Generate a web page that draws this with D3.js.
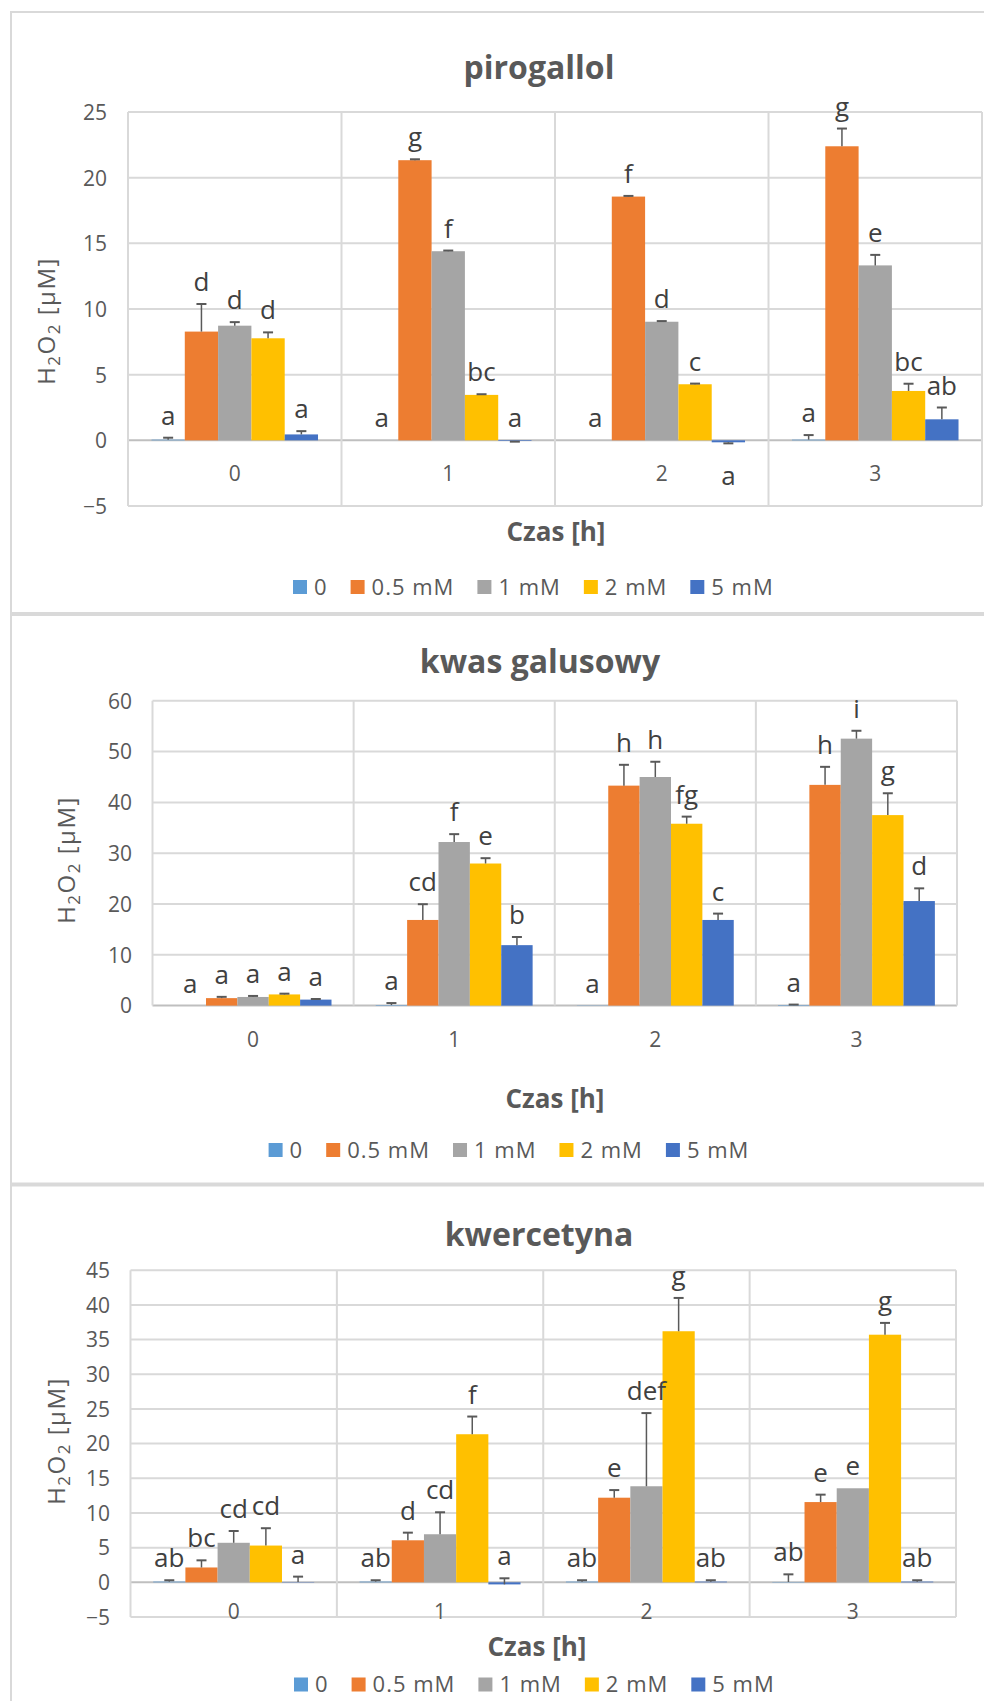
<!DOCTYPE html>
<html><head><meta charset="utf-8">
<script src="https://cdn.jsdelivr.net/npm/d3@7/dist/d3.min.js"></script>
<style>html,body{margin:0;padding:0;background:#fff;} svg{display:block;} text{font-family:"Open Sans",sans-serif;}</style>
</head><body><svg id="c" width="984" height="1701"></svg>
<script>
// ---------- DATA ----------
const categories = ["0", "1", "2", "3"];
const seriesNames = ["0", "0.5 mM", "1 mM", "2 mM", "5 mM"];
const seriesColors = ["#5B9BD5", "#ED7D31", "#A5A5A5", "#FFC000", "#4472C4"];

// pirogallol (rows = series, columns = time categories)
const piroValues = [
  [0.05, 0, 0, 0.05],
  [8.28, 21.33, 18.56, 22.39],
  [8.73, 14.4, 9.03, 13.32],
  [7.77, 3.46, 4.27, 3.76],
  [0.45, -0.05, -0.15, 1.6]
];
const piroErrors = [
  [0.15, 0, 0, 0.35],
  [2.1, 0.07, 0.05, 1.35],
  [0.27, 0.05, 0.05, 0.8],
  [0.45, 0.05, 0.05, 0.55],
  [0.25, -0.05, -0.08, 0.9]
];
const piroLetters = [
  ["a", "a", "a", "a"],
  ["d", "g", "f", "g"],
  ["d", "f", "d", "e"],
  ["d", "bc", "c", "bc"],
  ["a", "a", "a", "ab"]
];
const piroTicks = [-5, 0, 5, 10, 15, 20, 25];

// kwas galusowy
const galValues = [
  [0, 0.1, -0.05, 0.1],
  [1.47, 16.86, 43.3, 43.45],
  [1.7, 32.2, 45.0, 52.55],
  [2.2, 27.97, 35.8, 37.5],
  [1.18, 11.9, 16.86, 20.58]
];
const galErrors = [
  [0, 0.4, 0, 0.1],
  [0.25, 3.1, 4.1, 3.55],
  [0.2, 1.55, 3.0, 1.55],
  [0.15, 1.05, 1.4, 4.3],
  [0.12, 1.6, 1.25, 2.5]
];
const galLetters = [
  ["a", "a", "a", "a"],
  ["a", "cd", "h", "h"],
  ["a", "f", "h", "i"],
  ["a", "e", "fg", "g"],
  ["a", "b", "c", "d"]
];
const galTicks = [0, 10, 20, 30, 40, 50, 60];

// kwercetyna
const kweValues = [
  [0.1, 0.1, 0.1, 0.05],
  [2.14, 6.06, 12.2, 11.57],
  [5.7, 6.93, 13.85, 13.56],
  [5.3, 21.35, 36.2, 35.7],
  [0.05, -0.3, 0.1, 0.1]
];
const kweErrors = [
  [0.2, 0.2, 0.2, 1.1],
  [1.03, 1.1, 1.1, 1.07],
  [1.7, 3.17, 10.55, 0],
  [2.5, 2.55, 4.8, 1.7],
  [0.77, 0.88, 0.2, 0.2]
];
const kweLetters = [
  ["ab", "ab", "ab", "ab"],
  ["bc", "d", "e", "e"],
  ["cd", "cd", "def", "e"],
  ["cd", "f", "g", "g"],
  ["a", "a", "ab", "ab"]
];
const kweTicks = [-5, 0, 5, 10, 15, 20, 25, 30, 35, 40, 45];

const titles = ["pirogallol", "kwas galusowy", "kwercetyna"];
const xAxisTitle = "Czas [h]";

// ---------- LAYOUT ----------
const panels = [
  { title: titles[0], values: piroValues, errors: piroErrors, letters: piroLetters, ticks: piroTicks,
    domain: [-5, 25], x0: 128, x1: 982, yBot: 506, yTop: 112,
    titleX: 539, titleY: 79, tickRight: 107, yTitleX: 47, yTitleY: 321,
    xLabY: 474, xTitleX: 556, xTitleY: 541, legendX: 293, legendY: 587,
    below: [[4, 2]] },
  { title: titles[1], values: galValues, errors: galErrors, letters: galLetters, ticks: galTicks,
    domain: [0, 60], x0: 152.5, x1: 957, yBot: 1005.6, yTop: 700.8,
    titleX: 540, titleY: 673, tickRight: 132, yTitleX: 67, yTitleY: 860,
    xLabY: 1040, xTitleX: 555, xTitleY: 1108, legendX: 268.6, legendY: 1150,
    below: [] },
  { title: titles[2], values: kweValues, errors: kweErrors, letters: kweLetters, ticks: kweTicks,
    domain: [-5, 45], x0: 130.5, x1: 956, yBot: 1617, yTop: 1270.2,
    titleX: 539, titleY: 1246, tickRight: 110, yTitleX: 57, yTitleY: 1441,
    xLabY: 1612, xTitleX: 537, xTitleY: 1656, legendX: 294, legendY: 1684.5,
    below: [] }
];

const TEXT = "#595959", GRID = "#D9D9D9";
const svg = d3.select("#c");
svg.append("rect").attr("width", 984).attr("height", 1701).attr("fill", "#fff");

// outer frame and separators
const frame = svg.append("g").attr("stroke", GRID).attr("fill", "none");
frame.append("line").attr("x1", 11).attr("x2", 11).attr("y1", 11).attr("y2", 1701).attr("stroke-width", 2);
frame.append("line").attr("x1", 11).attr("x2", 984).attr("y1", 12).attr("y2", 12).attr("stroke-width", 2);
[614, 1184.5].forEach(yy => frame.append("line").attr("x1", 12).attr("x2", 984)
  .attr("y1", yy).attr("y2", yy).attr("stroke-width", 4));

panels.forEach(p => {
  const g = svg.append("g");
  const x = d3.scaleBand().domain(categories).range([p.x0, p.x1]).paddingInner(0).paddingOuter(0);
  const bw = x.bandwidth();
  const xs = d3.scaleBand().domain(d3.range(seriesNames.length)).range([bw * 0.11, bw * 0.89]).padding(0);
  const y = d3.scaleLinear().domain(p.domain).range([p.yBot, p.yTop]);

  // horizontal gridlines
  g.append("g").selectAll("line").data(p.ticks).join("line")
    .attr("x1", p.x0).attr("x2", p.x1)
    .attr("y1", d => y(d)).attr("y2", d => y(d))
    .attr("stroke", d => d === 0 ? "#BFBFBF" : GRID).attr("stroke-width", 2);
  // vertical category dividers
  const edges = categories.map(c => x(c)).concat([p.x1]);
  g.append("g").selectAll("line").data(edges).join("line")
    .attr("x1", d => d).attr("x2", d => d)
    .attr("y1", p.yTop).attr("y2", p.yBot)
    .attr("stroke", GRID).attr("stroke-width", 2);

  // y axis labels
  const ya = g.append("g").attr("transform", `translate(${p.tickRight},0)`)
    .call(d3.axisLeft(y).tickValues(p.ticks).tickSize(0).tickPadding(0));
  ya.select(".domain").remove();
  ya.selectAll("text").attr("font-size", 21).attr("fill", TEXT)
    .attr("font-family", "Open Sans").attr("dy", "0.35em");

  // x axis labels
  const xa = g.append("g").attr("transform", `translate(0,${p.xLabY})`)
    .call(d3.axisBottom(x).tickSize(0).tickPadding(0));
  xa.select(".domain").remove();
  xa.selectAll("text").attr("font-size", 21).attr("fill", TEXT)
    .attr("font-family", "Open Sans").attr("y", 0).attr("dy", "0.35em");

  // bars
  const cells = [];
  p.values.forEach((row, s) => row.forEach((v, ci) => cells.push({
    s, c: categories[ci], v, e: p.errors[s][ci], lab: p.letters[s][ci], ci })));
  g.append("g").selectAll("rect").data(cells).join("rect")
    .attr("x", d => x(d.c) + xs(d.s))
    .attr("width", xs.bandwidth())
    .attr("y", d => y(Math.max(0, d.v)))
    .attr("height", d => Math.abs(y(d.v) - y(0)))
    .attr("fill", d => seriesColors[d.s]);

  // error bars
  const eb = g.append("g").attr("stroke", "#595959").attr("stroke-width", 1.5);
  cells.filter(d => d.e !== 0).forEach(d => {
    const cx = x(d.c) + xs(d.s) + xs.bandwidth() / 2;
    eb.append("line").attr("x1", cx).attr("x2", cx).attr("y1", y(d.v)).attr("y2", y(d.v + d.e));
    eb.append("line").attr("x1", cx - 5).attr("x2", cx + 5).attr("y1", y(d.v + d.e)).attr("y2", y(d.v + d.e)).attr("stroke-width", 2);
  });

  // significance letters
  g.append("g").selectAll("text").data(cells).join("text")
    .attr("x", d => x(d.c) + xs(d.s) + xs.bandwidth() / 2)
    .attr("y", d => p.below.some(b => b[0] === d.s && b[1] === d.ci)
      ? y(0) + 45
      : y(Math.max(0, d.v, d.v + d.e)) - 13)
    .attr("text-anchor", "middle").attr("font-size", 26).attr("fill", "#404040")
    .text(d => d.lab);

  // title
  g.append("text").attr("x", p.titleX).attr("y", p.titleY).attr("text-anchor", "middle")
    .attr("font-size", 32).attr("font-weight", "bold").attr("fill", TEXT).text(p.title);

  // x title
  g.append("text").attr("x", p.xTitleX).attr("y", p.xTitleY).attr("text-anchor", "middle")
    .attr("font-size", 26).attr("font-weight", "bold").attr("fill", TEXT).text(xAxisTitle);

  // y title
  const yt = g.append("text").attr("transform", `translate(${p.yTitleX},${p.yTitleY}) rotate(-90)`)
    .attr("text-anchor", "middle").attr("font-size", 24).attr("fill", TEXT)
    .attr("letter-spacing", 1.5).attr("dy", "0.35em");
  yt.append("tspan").text("H");
  yt.append("tspan").attr("font-size", 17).attr("dy", 5).text("2");
  yt.append("tspan").attr("dy", -5).text("O");
  yt.append("tspan").attr("font-size", 17).attr("dy", 5).text("2");
  yt.append("tspan").attr("dy", -5).text(" [µM]");

  // legend
  const lg = g.append("g").attr("transform", `translate(${p.legendX},${p.legendY})`);
  let cx = 0;
  seriesNames.forEach((name, i) => {
    lg.append("rect").attr("x", cx).attr("y", -7).attr("width", 14).attr("height", 14).attr("fill", seriesColors[i]);
    const t = lg.append("text").attr("x", cx + 21).attr("y", 0).attr("dy", "0.36em")
      .attr("font-size", 22).attr("letter-spacing", 1).attr("fill", TEXT).text(name);
    cx += 21 + t.node().getComputedTextLength() + 23;
  });
});
</script></body></html>
